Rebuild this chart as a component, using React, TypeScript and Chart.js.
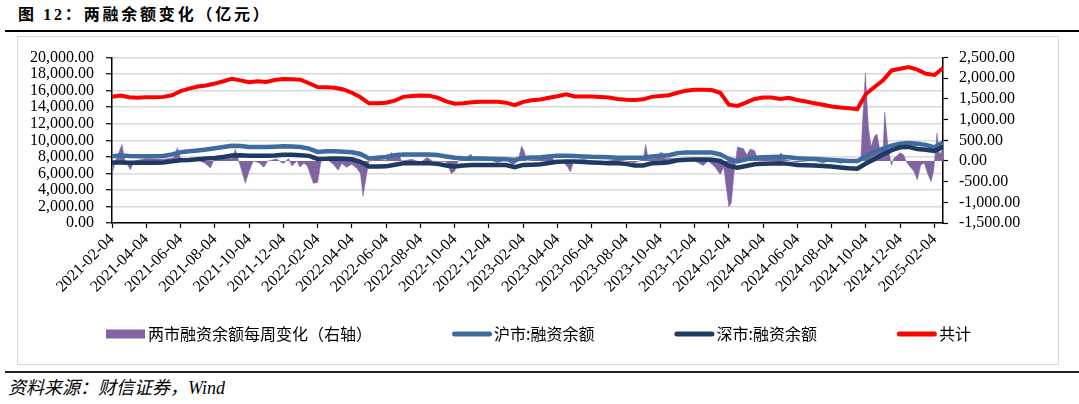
import { useEffect, useRef } from 'react';
import { Chart, registerables } from 'chart.js';

Chart.register(...registerables);

// x axis: months since 2021-02-04 (tick every 2 months)
const xTickLabels = [
  '2021-02-04', '2021-04-04', '2021-06-04', '2021-08-04', '2021-10-04', '2021-12-04',
  '2022-02-04', '2022-04-04', '2022-06-04', '2022-08-04', '2022-10-04', '2022-12-04',
  '2023-02-04', '2023-04-04', '2023-06-04', '2023-08-04', '2023-10-04', '2023-12-04',
  '2024-02-04', '2024-04-04', '2024-06-04', '2024-08-04', '2024-10-04', '2024-12-04',
  '2025-02-04',
];

const seriesLabels = ['两市融资余额每周变化（右轴）', '沪市:融资余额', '深市:融资余额', '共计'];

// Balances sampled every half month from 2021-02-04 (亿元)
const totalBalance = [
  15250, 15400, 15200, 15140, 15220, 15200, 15250, 15450, 15950, 16240,
  16510, 16630, 16860, 17140, 17450, 17250, 17020, 17140, 17060, 17290,
  17410, 17370, 17330, 16900, 16430, 16400, 16350, 16150, 15750, 15200,
  14470, 14470, 14550, 14800, 15250, 15350, 15420, 15400, 15150, 14700,
  14420, 14470, 14600, 14650, 14670, 14650, 14550, 14250, 14650, 14850,
  14940, 15150, 15330, 15550, 15300, 15300, 15300, 15250, 15180, 15000,
  14900, 14860, 14950, 15250, 15350, 15450, 15750, 16000, 16100, 16120,
  16080, 15750, 14300, 14150, 14550, 15000, 15180, 15180, 15000, 15150,
  14880, 14700, 14470, 14300, 14080, 13980, 13880, 13780, 15600, 16450,
  17250, 18450, 18650, 18850, 18550, 18050, 17900, 18750,
];

const shBalance = [
  8080, 8150, 8100, 8080, 8080, 8080, 8100, 8300, 8550, 8680,
  8780, 8900, 9030, 9200, 9350, 9300, 9180, 9200, 9180, 9220,
  9280, 9250, 9180, 9000, 8600, 8670, 8670, 8620, 8550, 8350,
  7800, 7900, 7980, 8200, 8270, 8270, 8270, 8270, 8220, 8050,
  7880, 7820, 7800, 7800, 7770, 7730, 7700, 7620, 7850, 7920,
  7960, 8050, 8120, 8120, 8100, 8050, 8000, 7980, 7960, 7900,
  7880, 7880, 7880, 8050, 8120, 8200, 8450, 8510, 8510, 8510,
  8510, 8300, 7750, 7450, 7700, 7880, 7950, 7980, 8000, 7950,
  7820, 7780, 7730, 7680, 7610, 7560, 7490, 7490, 8050, 8600,
  9000, 9350, 9600, 9680, 9580, 9450, 9150, 9690,
];

const szBalance = [
  7330, 7330, 7300, 7300, 7290, 7300, 7330, 7450, 7580, 7620,
  7700, 7800, 7860, 7980, 8150, 8200, 8130, 8120, 8120, 8150,
  8250, 8250, 8200, 8120, 7750, 7760, 7800, 7760, 7700, 7400,
  6820, 6820, 6850, 7050, 7220, 7220, 7220, 7220, 7150, 6950,
  6820, 6950, 7020, 7020, 7020, 7020, 7000, 6750, 7020, 7050,
  7100, 7250, 7410, 7450, 7450, 7380, 7330, 7280, 7220, 7220,
  7150, 6950, 6950, 7220, 7250, 7350, 7580, 7650, 7690, 7690,
  7640, 7500, 6900, 6700, 6900, 7100, 7150, 7200, 7220, 7150,
  7020, 6980, 6950, 6900, 6820, 6720, 6630, 6570, 7200, 7700,
  8300, 8800, 9150, 9200, 8950, 8850, 8700, 9180,
];

// Weekly change of financing balance (right axis), read at irregular points (months since 2021-02-04)
const changeMonths = [
  0, 0.2, 0.58, 0.75, 1.07, 1.3, 2.0, 3.0, 3.6, 3.82,
  4.0, 5.0, 5.45, 5.74, 5.95, 6.5, 7.0, 7.2, 7.4, 7.78,
  8.0, 8.25, 8.6, 8.86, 9.1, 9.6, 10.0, 10.3, 10.5, 10.8,
  10.97, 11.2, 11.4, 11.75, 12.0, 12.2, 12.6, 12.95, 13.2, 13.4,
  13.7, 14.0, 14.3, 14.5, 14.65, 14.85, 15.0, 15.5, 16.0, 16.3,
  16.5, 16.7, 16.9, 17.5, 18.0, 18.4, 18.7, 19.5, 19.8, 20.0,
  20.2, 20.6, 20.95, 21.2, 22.0, 22.5, 23.0, 23.4, 23.7, 23.9,
  24.05, 24.2, 24.8, 25.5, 25.8, 26.3, 26.6, 26.75, 26.95, 27.5,
  28.5, 29.5, 30.5, 31.0, 31.15, 31.3, 31.7, 32.05, 32.3, 33.0,
  33.8, 34.3, 34.5, 34.8, 35.2, 35.5, 35.7, 36.0, 36.15, 36.3,
  36.4, 36.5, 36.85, 37.05, 37.25, 37.5, 37.7, 38.3, 38.9, 39.05,
  39.3, 40.0, 41.0, 41.5, 42.0, 42.5, 43.0, 43.7, 43.8, 43.97,
  44.15, 44.3, 44.5, 44.65, 44.8, 45.0, 45.1, 45.3, 45.5, 45.6,
  46.0, 46.2, 46.4, 46.8, 47.0, 47.2, 47.4, 47.6, 47.8, 47.95,
  48.15, 48.3, 48.5,
];

const weeklyChange = [
  -320, 0, 400, 30, -215, 0, 60, 40, 80, 320,
  60, 30, -60, -170, 20, 60, 60, 280, 0, -540,
  -250, 0, -50, -150, 0, 50, -60, 60, -120, 0,
  -150, -50, -120, -540, -520, 0, 30, -100, -225, -60,
  -150, -80, -180, -300, -855, -350, 0, 30, 20, 205,
  80, 205, 0, 40, -30, 85, 0, -20, -300, -250,
  0, 60, 160, 0, 40, -40, 30, -100, 0, 360,
  245, 0, 40, 160, 20, 0, -150, -265, 0, 40,
  -30, 40, -40, 40, 400, 40, 60, 220, 60, 60,
  40, -60, -110, 0, -150, -330, -150, -1110, -1010, -300,
  0, 340, 300, 150, 290, 250, 50, 50, 80, 200,
  30, -30, 20, -50, 30, -60, 10, 0, 900, 2125,
  800, 350, 600, 650, 300, 250, 1185, 300, -110, 50,
  200, 150, -50, -250, -460, -100, -50, -300, -500, -250,
  680, 150, 300,
];

const fmt = (v: number) =>
  Number(v).toLocaleString('en-US', { minimumFractionDigits: 2, maximumFractionDigits: 2 });

const tickFont = { family: '"Liberation Serif", "Times New Roman", serif', size: 16 };

const legendPlugin = {
  id: 'customLegend',
  afterDraw(chart: any) {
    const ctx = chart.ctx;
    ctx.save();
    ctx.font = '16px "Noto Sans CJK SC", sans-serif';
    ctx.textBaseline = 'middle';
    ctx.textAlign = 'left';
    const y = 298;
    let x = 89;
    chart.data.datasets.forEach((ds: any) => {
      if (ds.fill) {
        ctx.fillStyle = ds.backgroundColor;
        ctx.fillRect(x, y - 4.5, 39, 9);
      } else {
        ctx.strokeStyle = ds.borderColor;
        ctx.lineWidth = 5;
        ctx.lineCap = 'round';
        ctx.beginPath();
        ctx.moveTo(x + 2.5, y);
        ctx.lineTo(x + 37.5, y);
        ctx.stroke();
      }
      x += 42;
      ctx.fillStyle = '#000';
      ctx.fillText(ds.label, x, y);
      x += ctx.measureText(ds.label).width + 80;
    });
    ctx.restore();
  },
};

export default function App() {
  const ref = useRef<HTMLCanvasElement>(null);

  useEffect(() => {
    document.body.style.margin = '0';
    const toXY = (vals: number[]) => vals.map((v, i) => ({ x: i * 0.5, y: v }));
    const chart = new Chart(ref.current as HTMLCanvasElement, {
      type: 'line',
      data: {
        datasets: [
          {
            label: seriesLabels[0],
            data: changeMonths.map((m, i) => ({ x: m, y: weeklyChange[i] })),
            yAxisID: 'y1',
            fill: 'origin',
            backgroundColor: '#8064A2',
            borderColor: '#8064A2',
            borderWidth: 0.5,
            pointRadius: 0,
            tension: 0,
            order: 4,
          },
          {
            label: seriesLabels[1],
            data: toXY(shBalance),
            yAxisID: 'y',
            borderColor: '#3E6C9E',
            borderWidth: 4.5,
            pointRadius: 0,
            tension: 0,
            fill: false,
            order: 3,
          },
          {
            label: seriesLabels[2],
            data: toXY(szBalance),
            yAxisID: 'y',
            borderColor: '#1C3A62',
            borderWidth: 4.5,
            pointRadius: 0,
            tension: 0,
            fill: false,
            order: 2,
          },
          {
            label: seriesLabels[3],
            data: toXY(totalBalance),
            yAxisID: 'y',
            borderColor: '#FF0000',
            borderWidth: 4,
            pointRadius: 0,
            tension: 0,
            fill: false,
            order: 1,
          },
        ],
      },
      options: {
        responsive: false,
        animation: false,
        layout: { padding: { top: 17, left: 0, right: 0, bottom: 0 } },
        plugins: { legend: { display: false }, tooltip: { enabled: false } },
        scales: {
          x: {
            type: 'linear',
            position: 'bottom',
            min: 0,
            max: 48.5,
            afterBuildTicks: (s: any) => {
              s.ticks = xTickLabels.map((_, i) => ({ value: i * 2 }));
            },
            afterFit: (s: any) => {
              s.height = 142;
            },
            grid: { drawOnChartArea: false, drawTicks: true, tickLength: 5, tickColor: '#000', tickWidth: 1.2 },
            border: { color: '#000', width: 1.5 },
            ticks: {
              autoSkip: false,
              maxRotation: 45,
              minRotation: 45,
              padding: 2,
              color: '#000',
              font: tickFont,
              callback: (_v: any, i: number) => xTickLabels[i],
            },
          },
          y: {
            position: 'left',
            min: 0,
            max: 20000,
            afterFit: (s: any) => {
              s.width = 95;
            },
            grid: { color: '#D9D9D9', lineWidth: 1.5, tickColor: '#000', tickLength: 6, tickWidth: 1.2 },
            border: { color: '#000', width: 1.5 },
            ticks: {
              autoSkip: false,
              stepSize: 2000,
              padding: 12,
              color: '#000',
              font: tickFont,
              callback: (v: any) => fmt(v),
            },
          },
          y1: {
            position: 'right',
            min: -1500,
            max: 2500,
            afterFit: (s: any) => {
              s.width = 116;
            },
            grid: { drawOnChartArea: false, tickColor: '#000', tickLength: 5, tickWidth: 1.2 },
            border: { color: '#000', width: 1.5 },
            ticks: {
              autoSkip: false,
              stepSize: 500,
              padding: 11,
              color: '#000',
              font: tickFont,
              callback: (v: any) => fmt(v),
            },
          },
        },
      },
      plugins: [legendPlugin],
    } as any);
    return () => chart.destroy();
  }, []);

  return (
    <div style={{ position: 'relative', width: 1079, height: 404, background: '#fff', overflow: 'hidden' }}>
      <div
        style={{
          position: 'absolute',
          left: 18,
          top: 3,
          fontSize: 16,
          fontWeight: 700,
          letterSpacing: 2.8,
          lineHeight: '20px',
          whiteSpace: 'nowrap',
          color: '#000',
          fontFamily: '"Noto Sans CJK SC", sans-serif',
        }}
      >
        图 <span style={{ fontFamily: '"Liberation Serif", serif' }}>12</span>：两融余额变化（亿元）
      </div>
      <div style={{ position: 'absolute', left: 5, top: 30, width: 1074, height: 2, background: '#000' }} />
      <canvas
        ref={ref}
        width={1042}
        height={329}
        style={{ position: 'absolute', left: 17, top: 36, width: 1042, height: 329 }}
      />
      <div
        style={{
          position: 'absolute',
          left: 17,
          top: 36,
          width: 1042,
          height: 329,
          boxSizing: 'border-box',
          border: '1px solid #D9D9D9',
          pointerEvents: 'none',
        }}
      />
      <div style={{ position: 'absolute', left: 5, top: 371, width: 1074, height: 2, background: '#222' }} />
      <div
        style={{
          position: 'absolute',
          left: 8,
          top: 377,
          fontSize: 18,
          fontStyle: 'italic',
          lineHeight: '22px',
          whiteSpace: 'nowrap',
          color: '#000',
          fontFamily: '"Liberation Serif", "Noto Sans CJK SC", serif',
        }}
      >
        资料来源：财信证券，Wind
      </div>
    </div>
  );
}
